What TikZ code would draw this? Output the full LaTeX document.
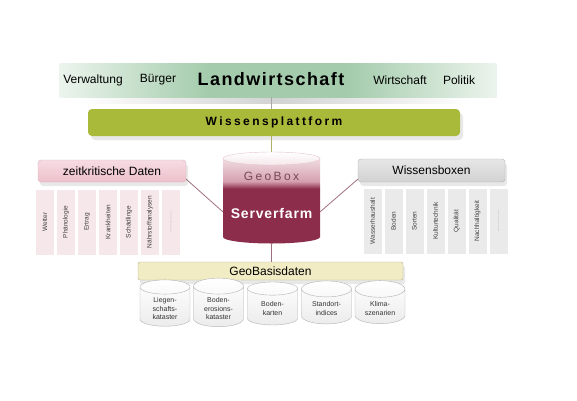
\documentclass[tikz,border=0pt]{standalone}
\usepackage{fontspec}
\setmainfont{Liberation Sans}
\usetikzlibrary{shapes.geometric}
\usetikzlibrary{shadows}
\usetikzlibrary{positioning}
\usepackage{xcolor}

\definecolor{bandgreen}{RGB}{164,204,172}
\definecolor{bandedge}{RGB}{236,244,237}
\definecolor{platgreen}{RGB}{169,185,58}
\definecolor{zeitpink}{RGB}{238,192,203}
\definecolor{colpink}{RGB}{246,231,234}
\definecolor{wbgray}{RGB}{210,210,210}
\definecolor{colgray}{RGB}{234,234,234}
\definecolor{geoyellow}{RGB}{242,236,196}
\definecolor{srvred}{RGB}{140,45,76}
\definecolor{srvpink}{RGB}{214,160,176}
\definecolor{linkred}{RGB}{160,112,126}
\definecolor{linkolive}{RGB}{175,178,100}

\pgfdeclarehorizontalshading{bandshade}{100bp}{color(0bp)=(bandedge); color(25bp)=(bandedge); color(42bp)=(bandgreen); color(58bp)=(bandgreen); color(75bp)=(bandedge); color(100bp)=(bandedge)}
\pgfdeclareverticalshading{srvshade}{100bp}{color(0bp)=(srvred); color(55bp)=(srvred); color(59bp)=(srvpink); color(75bp)=(srvpink!18); color(100bp)=(srvpink!18)}

\newcommand{\landfont}{\fontsize{18}{20}\selectfont\bfseries\addfontfeature{LetterSpace=8}}
\newcommand{\platfont}{\fontsize{12}{14}\selectfont\bfseries\addfontfeature{LetterSpace=20}}
\newcommand{\geoboxfont}{\fontsize{12}{14}\selectfont\addfontfeature{LetterSpace=20}}
\newcommand{\serverfont}{\fontsize{14}{16}\selectfont\bfseries\addfontfeature{LetterSpace=6}}

\tikzset{
  header/.style={rectangle, rounded corners=3pt, inner sep=0pt, font=\fontsize{12}{14}\selectfont,
    drop shadow={shadow xshift=2pt, shadow yshift=-4pt, fill=gray!35}},
  colbox/.style={rectangle, rotate=90, minimum width=65pt, minimum height=18pt, inner sep=0pt,
    font=\fontsize{6.5}{7.5}\selectfont, text=black!75},
  datacyl/.style={cylinder, shape border rotate=90, aspect=0.45, draw=gray!60, top color=white,
    bottom color=gray!15, minimum width=50pt, minimum height=43pt, align=center,
    font=\fontsize{7}{8.3}\selectfont, text=black!80},
  link/.style={linkred, line width=0.8pt},
}

\begin{document}
\begin{tikzpicture}[x=1pt,y=-1pt]
\useasboundingbox (0,0) rectangle (577,400);

% Landwirtschaft
\shade[left color=white, right color=white, middle color=gray!35] (80,97) rectangle (470,103);
\node[rectangle, minimum width=437pt, minimum height=34pt, inner sep=0pt, shading=bandshade] (band) at (278,80) {};
\node (verw) at (93,80) {\fontsize{12}{14}\selectfont Verwaltung};
\node (buerger) at (158,80) {\fontsize{12}{14}\selectfont Bürger};
\node (land) at (271,79) {\landfont Landwirtschaft};
\node (wirt) at (400,80) {\fontsize{12}{14}\selectfont Wirtschaft};
\node (pol) at (459,80) {\fontsize{12}{14}\selectfont Politik};

% Wissensplattform
\node[rectangle, rounded corners=4pt, fill=platgreen, minimum width=372pt, minimum height=27pt,
  drop shadow={shadow xshift=3pt, shadow yshift=-4pt, fill=gray!35}] (plat) at (274,122.5) {\platfont Wissensplattform};

% Serverfarm
\node[rectangle, minimum width=97pt, minimum height=91.5pt, inner sep=0pt] (srv) at (271.5,197.75) {};
\draw[gray!70, line width=0.8pt] (band.south -| srv.center) -- (plat.north -| srv.center);
\draw[linkolive, line width=0.8pt] (plat.south -| srv.center) -- (srv.north);
\shade[shading=srvshade] (223,158.5) -- (223,237) arc[start angle=180, end angle=360, x radius=48.5pt, y radius=6.5pt]
  -- (320,158.5) arc[start angle=0, end angle=180, x radius=48.5pt, y radius=6.5pt] -- cycle;
\draw[srvpink!60, top color=white, bottom color=srvpink!25] (271.5,158.5) ellipse[x radius=48.5pt, y radius=6.5pt];
\node (geobox) at (271.5,176) {\geoboxfont\color{srvred!60!black!80}GeoBox};
\node (serverfarm) at (271.5,213) {\serverfont\color{white}Serverfarm};

% zeitkritische Daten
\node[header, top color=zeitpink!55, bottom color=zeitpink, draw=zeitpink!90!black!90,
  minimum width=148pt, minimum height=22pt] (zeit) at (112,171) {zeitkritische Daten};
\node[colbox, fill=colpink] (z1) at (45,222) {Wetter};
\node[colbox, fill=colpink] (z2) at (66,222) {Phänologie};
\node[colbox, fill=colpink] (z3) at (87,222) {Ertrag};
\node[colbox, fill=colpink] (z4) at (108,222) {Krankheiten};
\node[colbox, fill=colpink] (z5) at (129,222) {Schädlinge};
\node[colbox, fill=colpink] (z6) at (150,222) {Nährstoffanalysen};
\node[colbox, fill=colpink, text=black!35] (z7) at (171,222) {............};

% Wissensboxen
\node[header, top color=wbgray!55, bottom color=wbgray, draw=wbgray!85!black,
  minimum width=147pt, minimum height=23pt] (wb) at (431.5,170.5) {Wissensboxen};
\node[colbox, fill=colgray] (w1) at (372.5,221) {Wasserhaushalt};
\node[colbox, fill=colgray] (w2) at (393.5,221) {Boden};
\node[colbox, fill=colgray] (w3) at (414.5,221) {Sorten};
\node[colbox, fill=colgray] (w4) at (435.5,221) {Kulturtechnik};
\node[colbox, fill=colgray] (w5) at (456.5,221) {Qualität};
\node[colbox, fill=colgray] (w6) at (477.5,221) {Nachhaltigkeit};
\node[colbox, fill=colgray, text=black!35] (w7) at (498.5,221) {............};

% GeoBasisdaten
\node[header, rounded corners=2pt, fill=geoyellow, draw=geoyellow!75!black,
  minimum width=265pt, minimum height=18pt] (geo) at (270.5,271) {GeoBasisdaten};
\node[datacyl] (c1) at (165,308.5) {Liegen-\\schafts-\\kataster};
\node[datacyl] (c2) at (218.5,308.5) {Boden-\\erosions-\\kataster};
\node[datacyl] (c3) at (272.5,308.5) {Boden-\\karten};
\node[datacyl] (c4) at (326.5,308.5) {Standort-\\indices};
\node[datacyl] (c5) at (380,308.5) {Klima-\\szenarien};

% Verbindungen
\draw[link] (srv.south) -- (geo.north -| srv.center);
\draw[link] ([yshift=3pt]zeit.south east) -- ([yshift=-14pt]srv.west);
\draw[link] ([yshift=3pt]wb.south west) -- ([yshift=-14pt]srv.east);
\end{tikzpicture}
\end{document}
